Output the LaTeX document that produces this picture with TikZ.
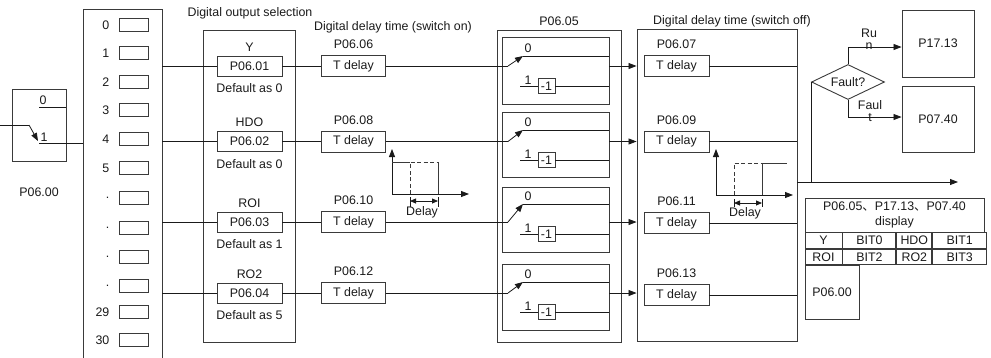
\documentclass[tikz,border=0pt]{standalone}
\usepackage{fontspec}
\setmainfont{Liberation Sans}
\newfontfamily\cjkfont{Noto Sans CJK SC}
\usepackage{xcolor}
\usepackage{tikz}
\usetikzlibrary{arrows.meta,positioning,shapes.geometric}
\definecolor{ink}{HTML}{1A1A1A}
\definecolor{edge}{HTML}{3A3A3A}
\newcommand{\dfont}{\fontsize{12.4}{14}\selectfont}
\tikzset{
  frame/.style={draw=edge, line width=0.9pt, inner sep=0pt},
  slot/.style={frame, minimum width=29pt, minimum height=13pt},
  parbox/.style={frame, minimum width=65pt, minimum height=20pt, font=\dfont\color{ink}},
  tdel/.style={frame, minimum width=64pt, minimum height=21pt, font=\dfont\color{ink}},
  swbox/.style={frame, minimum width=107pt},
  negbox/.style={frame, line width=0.7pt, minimum width=17pt, minimum height=15pt, font=\dfont\color{ink}},
  txt/.style={inner sep=0pt, font=\dfont\color{ink}},
  wire/.style={draw=ink, line width=0.8pt},
  flow/.style={wire, -{Triangle[length=8pt,width=6pt]}},
  dim/.style={wire, {Triangle[length=6pt,width=5pt]}-{Triangle[length=6pt,width=5pt]}},
  pulse/.style={draw=edge, line width=0.9pt},
  cell/.style={frame, font=\dfont\color{ink}},
}

\begin{document}
\begin{tikzpicture}[x=1pt, y=-1pt]
  \useasboundingbox (0,0) rectangle (991,357);

  % terminal list
  \node[frame, minimum width=79pt, minimum height=362pt] (list) at (122.5,190) {};
  \node[slot] (s0) at (133.5,25) {};   \node[txt, left=9pt of s0] (n0) {0};
  \node[slot] (s1) at (133.5,53) {};   \node[txt, left=9pt of s1] (n1) {1};
  \node[slot] (s2) at (133.5,82) {};   \node[txt, left=9pt of s2] (n2) {2};
  \node[slot] (s3) at (133.5,110) {};  \node[txt, left=9pt of s3] (n3) {3};
  \node[slot] (s4) at (133.5,139) {};  \node[txt, left=9pt of s4] (n4) {4};
  \node[slot] (s5) at (133.5,168) {};  \node[txt, left=9pt of s5] (n5) {5};
  \node[slot] (s6) at (133.5,198) {};  \node[txt, left=9pt of s6] (n6) {.};
  \node[slot] (s7) at (133.5,228) {};  \node[txt, left=9pt of s7] (n7) {.};
  \node[slot] (s8) at (133.5,257) {};  \node[txt, left=9pt of s8] (n8) {.};
  \node[slot] (s9) at (133.5,286) {};  \node[txt, left=9pt of s9] (n9) {.};
  \node[slot] (s29) at (133.5,312) {}; \node[txt, left=9pt of s29] (n29) {29};
  \node[slot] (s30) at (133.5,340) {}; \node[txt, left=9pt of s30] (n30) {30};

  % P06.00 input switch
  \node[frame, minimum width=54pt, minimum height=72pt] (sel0) at (39,125) {};
  \node[txt, below=26pt of sel0] (sel0lbl) {P06.00};
  \coordinate (sel0in) at (0,125);
  \coordinate (sel0k) at (29,125);
  \coordinate (sel0t) at (38,141);
  \coordinate (sel0o) at (39,143);
  \coordinate (sel0z) at (39,107);
  \draw[wire] (sel0in) -- (sel0k);
  \draw[flow] (sel0k) -- (sel0t);
  \draw[wire] (sel0o) -- (sel0o -| list.west);
  \draw[wire] (sel0z) -- (sel0z -| sel0.east);
  \node[txt, anchor=south] (sel0zl) at (43,105) {0};
  \node[txt, anchor=south] (sel0ol) at (44,141.5) {1};

  % output selection
  \node[frame, minimum width=92pt, minimum height=312pt] (selbox) at (249,186) {};
  \node[txt] (sellbl) at (250,13) {Digital output selection};
  \node[parbox] (p1) at (249.5,66) {P06.01};
  \node[txt, above=4pt of p1] (p1n) {Y};
  \node[txt, below=7pt of p1] (p1d) {Default as 0};
  \node[parbox] (p2) at (249.5,141.5) {P06.02};
  \node[txt, above=4pt of p2] (p2n) {HDO};
  \node[txt, below=7pt of p2] (p2d) {Default as 0};
  \node[parbox] (p3) at (249.5,222) {P06.03};
  \node[txt, above=4pt of p3] (p3n) {ROI};
  \node[txt, below=7pt of p3] (p3d) {Default as 1};
  \node[parbox] (p4) at (249.5,293) {P06.04};
  \node[txt, above=4pt of p4] (p4n) {RO2};
  \node[txt, below=7pt of p4] (p4d) {Default as 5};
  \draw[wire] (list.east |- p1) -- (p1);
  \draw[wire] (list.east |- p2) -- (p2);
  \draw[wire] (list.east |- p3) -- (p3);
  \draw[wire] (list.east |- p4) -- (p4);

  % switch-on delay
  \node[txt] (onlbl) at (393,27) {Digital delay time (switch on)};
  \node[tdel] (on1) at (353.5,66) {T delay};
  \node[txt, above=6pt of on1] (on1p) {P06.06};
  \node[tdel] (on2) at (353.5,141.5) {T delay};
  \node[txt, above=6pt of on2] (on2p) {P06.08};
  \node[tdel] (on3) at (353.5,222) {T delay};
  \node[txt, above=6pt of on3] (on3p) {P06.10};
  \node[tdel] (on4) at (353.5,293) {T delay};
  \node[txt, above=6pt of on4] (on4p) {P06.12};
  \draw[wire] (p1) -- (on1);
  \draw[wire] (p2) -- (on2);
  \draw[wire] (p3) -- (on3);
  \draw[wire] (p4) -- (on4);

  % switch-on timing
  \coordinate (ta0) at (392,194);
  \coordinate (ta1) at (392,149);
  \coordinate (ta2) at (469,194);
  \draw[flow] (ta0) -- (ta1);
  \draw[flow] (ta0) -- (ta2);
  \draw[pulse] (392,162) -- (410,162);
  \draw[pulse, dash pattern=on 4pt off 2.5pt] (410,194) -- (410,162) -- (438,162);
  \draw[pulse] (438,162) -- (438,194);
  \draw[wire] (410,197) -- (410,207);
  \draw[wire] (438,197) -- (438,207);
  \draw[dim] (410,201) -- (438,201);
  \node[txt] (ta3) at (422,212) {Delay};

  % P06.05 frames
  \node[frame, minimum width=124pt, minimum height=312pt] (mode) at (559,186) {};
  \node[txt, above=4pt of mode] (modelbl) {P06.05};
  \node[swbox, minimum height=67pt] (m1) at (555.5,70.5) {};
  \node[swbox, minimum height=65pt] (m2) at (555.5,144.5) {};
  \node[swbox, minimum height=65pt] (m3) at (555.5,219.5) {};
  \node[swbox, minimum height=66pt] (m4) at (555.5,297) {};

  % switch-off frame
  \node[frame, minimum width=160pt, minimum height=312pt] (off) at (717,185) {};
  \node[txt] (offlbl) at (732,21) {Digital delay time (switch off)};

  % P06.05 switches
  \coordinate (m1k) at (508,66);
  \coordinate (m1z) at (523,56);
  \coordinate (m1o) at (520,86);
  \draw[wire] (on1) -- (m1k);
  \draw[flow] (m1k) -- (m1z);
  \draw[wire] (m1z) -- (m1z -| m1.east);
  \node[txt, anchor=south] (m1zl) at (528,53) {0};
  \node[negbox] (m1n) at (546.5,86) {-1};
  \node[txt, anchor=south] (m1ol) at (528,85) {1};
  \draw[wire] (m1o) -- (m1n);
  \draw[wire] (m1n) -- (m1n -| m1.east);
  \draw[flow] (m1.east |- m1k) -- (m1k -| off.west);

  \coordinate (m2k) at (508,141.5);
  \coordinate (m2z) at (523,130);
  \coordinate (m2o) at (520,160);
  \draw[wire] (on2) -- (m2k);
  \draw[flow] (m2k) -- (m2z);
  \draw[wire] (m2z) -- (m2z -| m2.east);
  \node[txt, anchor=south] (m2zl) at (528,127) {0};
  \node[negbox] (m2n) at (546.5,160) {-1};
  \node[txt, anchor=south] (m2ol) at (528,159) {1};
  \draw[wire] (m2o) -- (m2n);
  \draw[wire] (m2n) -- (m2n -| m2.east);
  \draw[flow] (m2.east |- m2k) -- (m2k -| off.west);

  \coordinate (m3k) at (508,222);
  \coordinate (m3z) at (523,204);
  \coordinate (m3o) at (520,234);
  \draw[wire] (on3) -- (m3k);
  \draw[flow] (m3k) -- (m3z);
  \draw[wire] (m3z) -- (m3z -| m3.east);
  \node[txt, anchor=south] (m3zl) at (528,201) {0};
  \node[negbox] (m3n) at (546.5,234) {-1};
  \node[txt, anchor=south] (m3ol) at (528,233) {1};
  \draw[wire] (m3o) -- (m3n);
  \draw[wire] (m3n) -- (m3n -| m3.east);
  \draw[flow] (m3.east |- m3k) -- (m3k -| off.west);

  \coordinate (m4k) at (508,293);
  \coordinate (m4z) at (523,282);
  \coordinate (m4o) at (520,312);
  \draw[wire] (on4) -- (m4k);
  \draw[flow] (m4k) -- (m4z);
  \draw[wire] (m4z) -- (m4z -| m4.east);
  \node[txt, anchor=south] (m4zl) at (528,279) {0};
  \node[negbox] (m4n) at (546.5,312) {-1};
  \node[txt, anchor=south] (m4ol) at (528,311) {1};
  \draw[wire] (m4o) -- (m4n);
  \draw[wire] (m4n) -- (m4n -| m4.east);
  \draw[flow] (m4.east |- m4k) -- (m4k -| off.west);

  % switch-off delay
  \node[tdel, minimum width=65pt] (f1) at (676.5,66) {T delay};
  \node[txt, above=6pt of f1] (f1p) {P06.07};
  \node[tdel, minimum width=65pt] (f2) at (676.5,141.5) {T delay};
  \node[txt, above=6pt of f2] (f2p) {P06.09};
  \node[tdel, minimum width=65pt] (f3) at (676.5,223) {T delay};
  \node[txt, above=6pt of f3] (f3p) {P06.11};
  \node[tdel, minimum width=65pt] (f4) at (676.5,295) {T delay};
  \node[txt, above=6pt of f4] (f4p) {P06.13};
  \draw[wire] (f1) -- (f1 -| off.east);
  \draw[wire] (f2) -- (f2 -| off.east);
  \draw[wire] (f3) -- (f3 -| off.east);
  \draw[wire] (f4) -- (f4 -| off.east);

  % switch-off timing
  \coordinate (tb0) at (716,195);
  \coordinate (tb1) at (716,149);
  \coordinate (tb2) at (793,195);
  \draw[flow] (tb0) -- (tb1);
  \draw[flow] (tb0) -- (tb2);
  \draw[pulse, dash pattern=on 4pt off 2.5pt] (734,195) -- (734,163) -- (762,163);
  \draw[pulse] (762,195) -- (762,163) -- (787,163);
  \draw[wire] (734,199) -- (734,207);
  \draw[wire] (762,199) -- (762,207);
  \draw[dim] (734,203) -- (762,203);
  \node[txt] (tb3) at (745,213) {Delay};

  % fault branch
  \node[frame, diamond, aspect=2.5, minimum width=73pt, minimum height=35pt, font=\dfont\color{ink}] (fault) at (848,82) {Fault?};
  \node[frame, minimum width=72pt, minimum height=67pt, font=\dfont\color{ink}] (p1713) at (938,43.5) {P17.13};
  \node[frame, minimum width=72pt, minimum height=66pt, font=\dfont\color{ink}] (p0740) at (938,119) {P07.40};
  \draw[flow] (fault.north) |- ([yshift=-3.5pt]p1713.west);
  \draw[flow] (fault.south) |- ([yshift=2pt]p0740.west);
  \node[txt, align=center, font=\fontsize{12.4}{12}\selectfont\color{ink}] (runlbl) at (869,39) {Ru\\n};
  \node[txt, align=center, font=\fontsize{12.4}{12}\selectfont\color{ink}] (faultlbl) at (870,111) {Faul\\t};

  % output bus
  \coordinate (bus0) at (797,182);
  \coordinate (bus1) at (958,182);
  \draw[flow] (bus0) -- (bus1);
  \draw[wire] (fault.west |- bus0) -- (fault.west);

  % display table
  \node[cell, minimum width=179pt, minimum height=34pt, align=center, font=\fontsize{12.4}{15}\selectfont\color{ink}] (dsp) at (894.5,215) {P06.05{\cjkfont 、}P17.13{\cjkfont 、}P07.40\\display};
  \node[cell, minimum width=37pt, minimum height=15.5pt, below=0pt of dsp.south west, anchor=north west] (cy) {Y};
  \node[cell, minimum width=53pt, minimum height=15.5pt, right=0pt of cy] (cb0) {BIT0};
  \node[cell, minimum width=35pt, minimum height=15.5pt, right=0pt of cb0] (chdo) {HDO};
  \node[cell, minimum width=54pt, minimum height=15.5pt, right=0pt of chdo] (cb1) {BIT1};
  \node[cell, minimum width=37pt, minimum height=15.5pt, below=0pt of cy] (croi) {ROI};
  \node[cell, minimum width=53pt, minimum height=15.5pt, right=0pt of croi] (cb2) {BIT2};
  \node[cell, minimum width=35pt, minimum height=15.5pt, right=0pt of cb2] (cro2) {RO2};
  \node[cell, minimum width=54pt, minimum height=15.5pt, right=0pt of cro2] (cb3) {BIT3};
  \node[cell, minimum width=54pt, minimum height=54pt, below=0pt of croi.south west, anchor=north west] (c0600) {P06.00};
\end{tikzpicture}
\end{document}
